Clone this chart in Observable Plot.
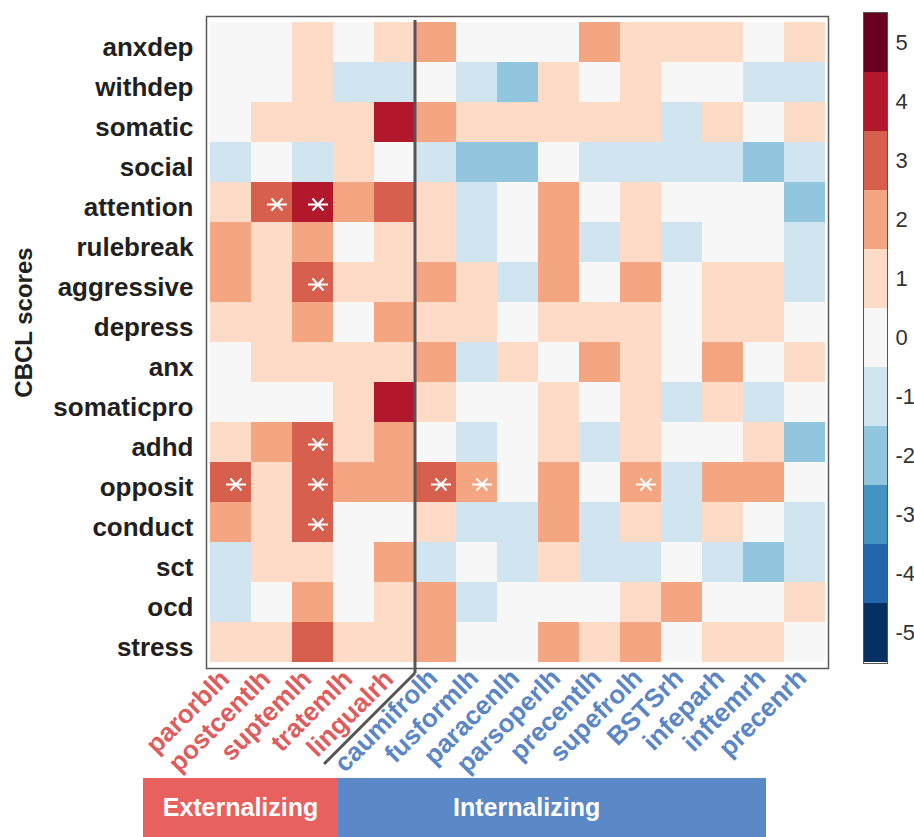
<!DOCTYPE html>
<html><head><meta charset="utf-8">
<script src="https://cdn.jsdelivr.net/npm/d3@7"></script>
<script src="https://cdn.jsdelivr.net/npm/@observablehq/plot@0.6"></script>
<style>
body{margin:0;background:#fff}
#wrap{position:relative;width:914px;height:837px;overflow:hidden;background:#fff}
#wrap svg{position:absolute;top:0}
.box{position:absolute;top:778px;height:59px;color:#fff;font:bold 25px "Liberation Sans";display:flex;align-items:center}
</style></head><body><div id="wrap"></div>
<script>
// ---- data ----
const rows = ["anxdep","withdep","somatic","social","attention","rulebreak","aggressive","depress","anx","somaticpro","adhd","opposit","conduct","sct","ocd","stress"];
const externalRegions = ["parorblh","postcentlh","suptemlh","tratemlh","lingualrh"];
const internalRegions = ["caumifrolh","fusformlh","paracenlh","parsoperlh","precentlh","supefrolh","BSTSrh","infeparh","inftemrh","precenrh"];
const columns = [...externalRegions, ...internalRegions];
const levels = [5,4,3,2,1,0,-1,-2,-3,-4,-5];

const anxdep     = [0,0,1,0,1, 2,0,0,0,2,1,1,1,0,1];
const withdep    = [0,0,1,-1,-1, 0,-1,-2,1,0,1,0,0,-1,-1];
const somatic    = [0,1,1,1,4, 2,1,1,1,1,1,-1,1,0,1];
const social     = [-1,0,-1,1,0, -1,-2,-2,0,-1,-1,-1,-1,-2,-1];
const attention  = [1,3,4,2,3, 1,-1,0,2,0,1,0,0,0,-2];
const rulebreak  = [2,1,2,0,1, 1,-1,0,2,-1,1,-1,0,0,-1];
const aggressive = [2,1,3,1,1, 2,1,-1,2,0,2,0,1,1,-1];
const depress    = [1,1,2,0,2, 1,1,0,1,1,1,0,1,1,0];
const anx        = [0,1,1,1,1, 2,-1,1,0,2,1,0,2,0,1];
const somaticpro = [0,0,0,1,4, 1,0,0,1,0,1,-1,1,-1,0];
const adhd       = [1,2,3,1,2, 0,-1,0,1,-1,1,0,0,1,-2];
const opposit    = [3,1,3,2,2, 3,2,0,2,0,2,-1,2,2,0];
const conduct    = [2,1,3,0,0, 1,-1,-1,2,-1,1,-1,1,0,-1];
const sct        = [-1,1,1,0,2, -1,0,-1,1,-1,-1,0,-1,-2,-1];
const ocd        = [-1,0,2,0,1, 2,-1,0,0,0,1,2,0,0,1];
const stress     = [1,1,3,1,1, 2,0,0,2,1,2,0,1,1,0];
const rowValues = [anxdep,withdep,somatic,social,attention,rulebreak,aggressive,depress,anx,somaticpro,adhd,opposit,conduct,sct,ocd,stress];

const significant = [
  ["attention","postcentlh"],["attention","suptemlh"],["aggressive","suptemlh"],
  ["adhd","suptemlh"],["opposit","parorblh"],["opposit","suptemlh"],["conduct","suptemlh"],
  ["opposit","caumifrolh"],["opposit","fusformlh"],["opposit","supefrolh"]
];

const cells = rows.flatMap((r, i) => columns.map((c, j) => ({row: r, col: c, value: rowValues[i][j]})));
const stars = significant.map(([row, col]) => ({row, col}));

// ---- style ----
const RED = "#e05b5b", BLUE = "#5a86c8", INK = "#231f20";
const FONT = "Liberation Sans";
const starSymbol = {
  draw(ctx, size) {
    const r = Math.sqrt(size / Math.PI);
    ctx.moveTo(-r, 0); ctx.lineTo(r, 0);
    ctx.moveTo(-0.55 * r, -0.6 * r); ctx.lineTo(0.55 * r, 0.6 * r);
    ctx.moveTo(-0.55 * r, 0.6 * r); ctx.lineTo(0.55 * r, -0.6 * r);
  }
};
const colorScale = {type: "ordinal", domain: levels, range: d3.schemeRdBu[11]};

const divider = (index, scales, values, dims) => {
  const x = scales.x("caumifrolh");
  const bottom = dims.height - dims.marginBottom;
  const g = d3.create("svg:g").attr("stroke", "#555").attr("stroke-width", 3).attr("fill", "none");
  g.append("line").attr("x1", x).attr("x2", x).attr("y1", dims.marginTop + 4).attr("y2", bottom + 5);
  g.append("line").attr("x1", x).attr("y1", bottom + 5).attr("x2", x - 91).attr("y2", bottom + 96);
  return g.node();
};

const main = Plot.plot({
  width: 914, height: 778,
  marginLeft: 206, marginRight: 86, marginTop: 16, marginBottom: 110,
  style: {fontFamily: FONT, background: "transparent", overflow: "visible"},
  x: {type: "band", domain: columns, padding: 0, axis: null},
  y: {type: "band", domain: rows, padding: 0},
  color: colorScale,
  marks: [
    Plot.cell(cells, {x: "col", y: "row", fill: "value"}),
    Plot.frame({stroke: "#5a5a5a", strokeWidth: 1.5}),
    Plot.dot(stars, {x: "col", y: "row", symbol: starSymbol, r: 10, stroke: "white", strokeWidth: 2, dx: 5, dy: 2}),
    Plot.axisY({tickSize: 0, tickPadding: 13, dy: 5, fontSize: 26, fontWeight: "bold", fill: INK, label: null}),
    Plot.text(externalRegions, {x: d => d, frameAnchor: "bottom", rotate: -45, textAnchor: "end", dx: 0, dy: 12, fill: RED, fontSize: 26, fontWeight: "bold"}),
    Plot.text(internalRegions, {x: d => d, frameAnchor: "bottom", rotate: -45, textAnchor: "end", dx: 3, dy: 11, fill: BLUE, fontSize: 26, fontWeight: "bold"}),
    Plot.text(["CBCL scores"], {frameAnchor: "left", textAnchor: "middle", dx: -182, dy: -20, rotate: -90, fontSize: 24, fontWeight: "bold", fill: INK}),
    divider
  ]
});
main.style.left = "0px";

const bar = Plot.plot({
  width: 51, height: 668,
  marginLeft: 0, marginRight: 27, marginTop: 12, marginBottom: 5,
  style: {fontFamily: "Liberation Sans", background: "transparent", overflow: "visible"},
  x: {axis: null},
  y: {type: "band", domain: levels, padding: 0, axis: null},
  color: colorScale,
  marks: [
    Plot.cell(levels, {y: d => d, fill: d => d}),
    Plot.frame({stroke: "#555", strokeWidth: 1}),
    Plot.axisY({anchor: "right", tickSize: 0, tickPadding: 8, fontSize: 22, fill: "#333", tickFormat: d => String(d), label: null})
  ]
});
bar.style.left = "863px";

const wrap = document.getElementById("wrap");
wrap.append(main, bar);

const ext = document.createElement("div");
ext.className = "box"; ext.textContent = "Externalizing";
Object.assign(ext.style, {left: "143px", width: "195px", background: "#e8615f", justifyContent: "center"});
const int = document.createElement("div");
int.className = "box"; int.textContent = "Internalizing";
Object.assign(int.style, {left: "338px", width: "313px", background: "#5b88c6", paddingLeft: "115px"});
wrap.append(ext, int);
</script></body></html>
